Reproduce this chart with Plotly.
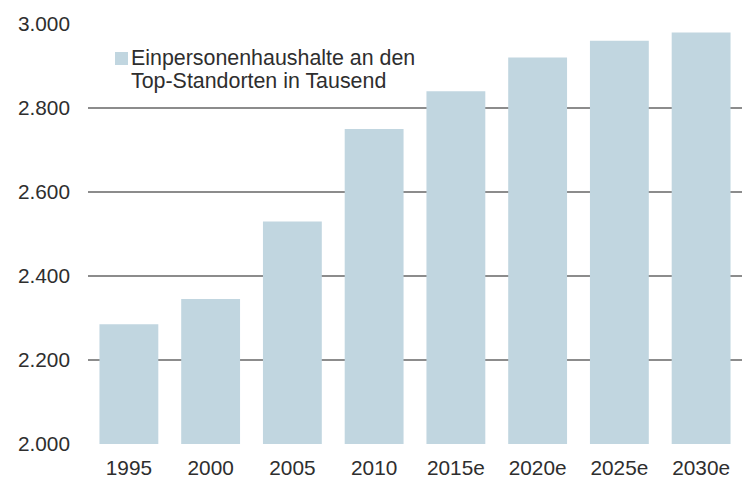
import plotly.graph_objects as go

categories = ["1995", "2000", "2005", "2010", "2015e", "2020e", "2025e", "2030e"]
values = [2285, 2345, 2530, 2750, 2840, 2920, 2960, 2980]
y_ticks = [2000, 2200, 2400, 2600, 2800, 3000]
y_tick_labels = ["2.000", "2.200", "2.400", "2.600", "2.800", "3.000"]
legend_lines = ["Einpersonenhaushalte an den", "Top-Standorten in Tausend"]

bar_color = "#c1d6e0"
text_color = "#2e2e2e"
grid_color = "#8c8c8c"
font_family = "Liberation Sans, Arial, sans-serif"

fig = go.Figure()
fig.add_trace(go.Bar(
    x=categories, y=values, marker=dict(color=bar_color, line=dict(width=0)),
    name=" ".join(legend_lines), showlegend=False,
))

# the page body adds an 8px offset; plot area lands at x 88..742, y 24..444
fig.update_layout(
    width=748, height=472,
    margin=dict(l=80, r=14, t=16, b=36, autoexpand=False),
    paper_bgcolor="white", plot_bgcolor="white",
    bargap=0.28,
    font=dict(family=font_family, size=21, color=text_color),
    xaxis=dict(
        showgrid=False, showline=False, zeroline=False, ticks="",
        automargin=False,
        tickfont=dict(size=20.8, color=text_color), ticklabelstandoff=9,
    ),
    yaxis=dict(
        range=[2000, 3000], tickvals=y_ticks, ticktext=y_tick_labels,
        showgrid=True, gridcolor=grid_color, gridwidth=1.5,
        showline=False, zeroline=False, ticks="", automargin=False,
        tickfont=dict(size=20.8, color=text_color), ticklabelstandoff=17,
    ),
)

# legend (drawn manually to match the two-line layout)
fig.add_shape(type="rect", xref="paper", yref="paper",
              x0=(115 - 88) / 654, x1=(128 - 88) / 654,
              y0=(444 - 65) / 420, y1=(444 - 52) / 420,
              fillcolor=bar_color, line=dict(width=0))
for i, line in enumerate(legend_lines):
    fig.add_annotation(
        text=line, xref="paper", yref="paper",
        x=(129 - 88) / 654, y=(444 - (58 + 23 * i)) / 420,
        xanchor="left", yanchor="middle", showarrow=False,
        font=dict(size=21.4, color=text_color, family=font_family),
    )

fig.write_html("out.html")
